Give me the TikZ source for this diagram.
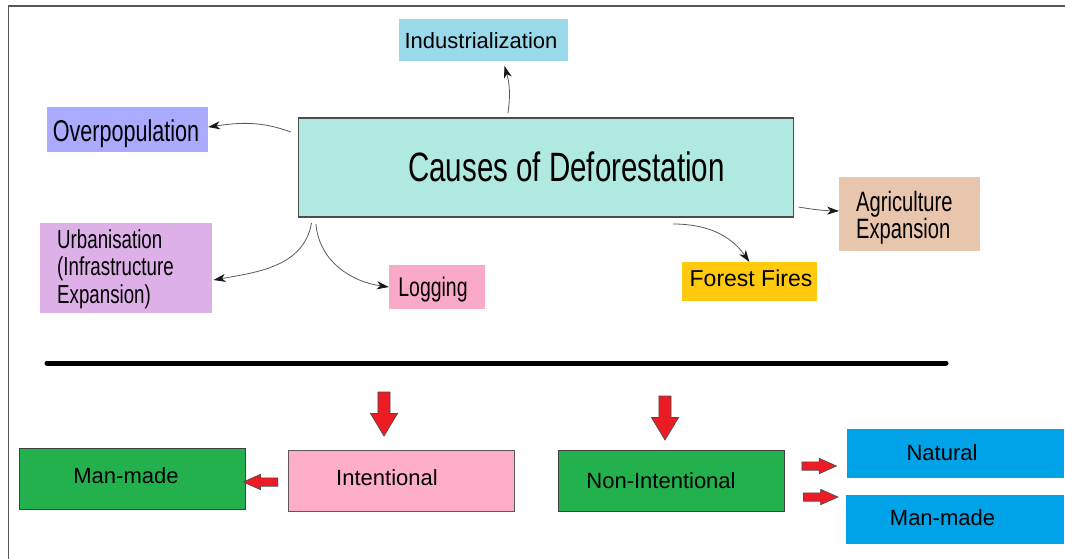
\documentclass[tikz,border=0pt]{standalone}
\usepackage{fontspec}
\setmainfont{Liberation Sans}
\newfontfamily\agency[FakeStretch=0.72]{Liberation Sans}
\usepackage{tikz}
\usetikzlibrary{arrows.meta}
\usetikzlibrary{shapes.arrows}
\definecolor{indcol}{HTML}{99D9EA}
\definecolor{causecol}{HTML}{B0E9DF}
\definecolor{overcol}{HTML}{AAAAFF}
\definecolor{urbcol}{HTML}{DDB0E8}
\definecolor{logcol}{HTML}{FAA9C9}
\definecolor{agricol}{HTML}{E8C5AD}
\definecolor{firecol}{HTML}{FFC90E}
\definecolor{greencol}{HTML}{22B14C}
\definecolor{pinkcol}{HTML}{FFAEC9}
\definecolor{bluecol}{HTML}{00A2E8}
\definecolor{arrowred}{HTML}{ED1C24}
\tikzstyle{box} = [rectangle, inner sep=0pt, outer sep=0pt]
\tikzstyle{txt} = [inner sep=0pt, anchor=base, font=\fontsize{22}{26}\selectfont]
\tikzstyle{cond} = [inner sep=0pt, anchor=base]
\tikzstyle{link} = [draw=black!65, line width=0.8pt, -{Stealth[length=12pt,width=8pt,inset=3.5pt,color=black!90]}]
\tikzstyle{redarrow} = [single arrow, draw=black!70, line width=0.7pt, fill=arrowred]
\tikzstyle{bigdown} = [redarrow, minimum height=44pt, minimum width=26.4pt, inner sep=5.7pt, single arrow head extend=7.5pt, single arrow tip angle=62, shape border rotate=270]
\tikzstyle{smallside} = [redarrow, minimum height=34.5pt, minimum width=14.5pt, inner sep=3.8pt, single arrow head extend=3.5pt, single arrow tip angle=48]

\begin{document}
\begin{tikzpicture}[x=1pt,y=1pt]
    \useasboundingbox (0,0) rectangle (1065,-559);
    \draw[line width=1.5pt, black!65] (8.5,-559) -- (8.5,-6) -- (1065,-6);

    % causes
    \node[box, fill=causecol, draw=black!70, line width=1.2pt, minimum width=495pt, minimum height=99pt] (causes) at (546,-167.5) {};
    \node[cond, font=\agency\fontsize{41}{41}\selectfont] (causes-t) at (566.5,-181) {Causes of Deforestation};

    \node[box, fill=indcol, minimum width=169pt, minimum height=41.4pt] (ind) at (483,-40) {};
    \node[txt] (ind-t) at (481,-48.7) {Industrialization};

    \node[box, fill=overcol, minimum width=161pt, minimum height=45pt] (over) at (127.5,-129.5) {};
    \node[cond, font=\agency\fontsize{30}{30}\selectfont] (over-t) at (126,-141.5) {Overpopulation};

    \node[box, fill=urbcol, minimum width=172pt, minimum height=90pt] (urb) at (126,-268) {};
    \node[cond, anchor=west, align=left, font=\agency\fontsize{26}{27.5}\selectfont] (urb-t) at (57,-269.1) {Urbanisation\\(Infrastructure\\Expansion)};

    \node[box, fill=logcol, minimum width=95.7pt, minimum height=44pt] (log) at (436.7,-287) {};
    \node[cond, font=\agency\fontsize{27}{27}\selectfont] (log-t) at (433,-296) {Logging};

    \node[box, fill=agricol, minimum width=141pt, minimum height=74pt] (agri) at (909.5,-214) {};
    \node[cond, anchor=west, align=left, font=\agency\fontsize{28}{26}\selectfont] (agri-t) at (856,-217.8) {Agriculture\\Expansion};

    \node[box, fill=firecol, minimum width=134.7pt, minimum height=39pt] (fire) at (749.4,-281.5) {};
    \node[txt, font=\fontsize{23}{26}\selectfont] (fire-t) at (751,-286) {Forest Fires};

    \draw[link] ([xshift=-38pt,yshift=5pt]causes.north) to[bend right=12] ([xshift=21.5pt,yshift=-5.3pt]ind.south);
    \draw[link] ([xshift=-7.6pt,yshift=-14pt]causes.north west) to[out=160,in=8] ([yshift=2.5pt]over.east);
    \draw[link] ([xshift=13pt,yshift=-6pt]causes.south west) to[out=-100,in=10] ([xshift=1.5pt,yshift=-12pt]urb.east);
    \draw[link] ([xshift=17.4pt,yshift=-7pt]causes.south west) to[out=-85,in=172] (log.west);
    \draw[link] ([xshift=127pt,yshift=-7pt]causes.south) to[out=0,in=125] (fire.north);
    \draw[link] ([xshift=5pt,yshift=10pt]causes.south east) to[bend right=4] ([yshift=3pt]agri.west);

    \draw[line width=5pt, line cap=round] (47,-363) -- (946,-363);

    % intentional / non-intentional
    \node[box, fill=greencol, draw=black!75, line width=0.8pt, minimum width=226pt, minimum height=61pt] (mm1) at (132.5,-478.5) {};
    \node[txt] (mm1-t) at (126,-483.3) {Man-made};
    \node[box, fill=pinkcol, draw=black!65, line width=0.8pt, minimum width=226pt, minimum height=61pt] (intent) at (401,-480.5) {};
    \node[txt] (intent-t) at (387,-485.7) {Intentional};
    \node[box, fill=greencol, draw=black!75, line width=0.8pt, minimum width=226pt, minimum height=61pt] (nonint) at (671,-480.5) {};
    \node[txt] (nonint-t) at (661,-488.7) {Non-Intentional};
    \node[box, fill=bluecol, minimum width=216.6pt, minimum height=49pt] (nat) at (955.7,-453.5) {};
    \node[txt] (nat-t) at (942,-460) {Natural};
    \node[box, fill=bluecol, minimum width=218pt, minimum height=49pt] (mm2) at (955,-519.5) {};
    \node[txt] (mm2-t) at (942.5,-525) {Man-made};

    \node[bigdown] (down1) at (384,-409) {};
    \node[bigdown] (down2) at (665,-413) {};
    \node[smallside, shape border rotate=180] (left1) at (265.2,-482) {};
    \node[smallside] (right1) at (814.5,-466) {};
    \node[smallside] (right2) at (816,-497) {};
\end{tikzpicture}
\end{document}
